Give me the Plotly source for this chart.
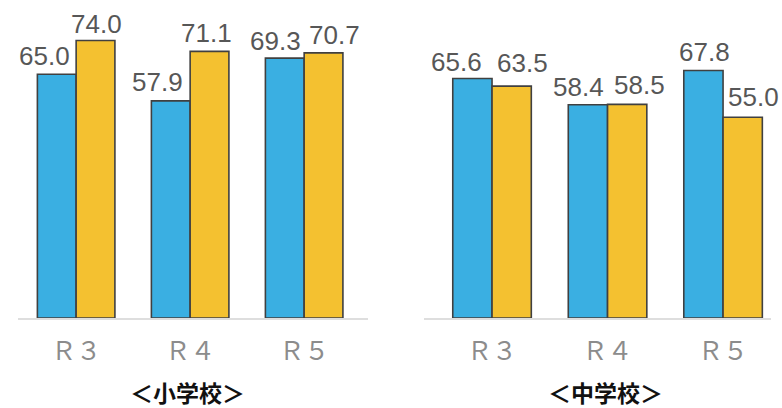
import plotly.graph_objects as go

# ---- data ----
categories = ["R3", "R4", "R5"]
tick_labels = ["Ｒ３", "Ｒ４", "Ｒ５"]
elem_blue = [65.0, 57.9, 69.3]
elem_yellow = [74.0, 71.1, 70.7]
jhs_blue = [65.6, 58.4, 67.8]
jhs_yellow = [63.5, 58.5, 55.0]
panel_titles = ["＜小学校＞", "＜中学校＞"]

# label offsets (px) relative to category centre: (blue, yellow) per category
elem_dx = [(-32, 20), (-33, 16), (-29, 30)]
elem_dy = [(1, 0), (2, 1), (0, 1)]
jhs_dx = [(-36, 30), (-29, 32), (-19, 30)]
jhs_dy = [(0, 6), (1, 2), (1, 3)]

BLUE = "#3aafe2"
YELLOW = "#f4c130"
EDGE = "#404040"

fig = go.Figure()

def add_panel(blue, yellow, xa, ya):
    fig.add_trace(go.Bar(x=categories, y=blue, marker=dict(color=BLUE, line=dict(color=EDGE, width=1.6)),
                         xaxis=xa, yaxis=ya, showlegend=False, hoverinfo="skip"))
    fig.add_trace(go.Bar(x=categories, y=yellow, marker=dict(color=YELLOW, line=dict(color=EDGE, width=1.6)),
                         xaxis=xa, yaxis=ya, showlegend=False, hoverinfo="skip"))

add_panel(elem_blue, elem_yellow, "x", "y")
add_panel(jhs_blue, jhs_yellow, "x2", "y2")

label_font = dict(family="Liberation Sans", size=26, color="#575757")

def add_labels(blue, yellow, dx, dy, xref, yref):
    for i, c in enumerate(categories):
        for j, v in enumerate((blue[i], yellow[i])):
            fig.add_annotation(x=c, y=v, xref=xref, yref=yref, text=f"{v:.1f}",
                               showarrow=False, xanchor="center", yanchor="bottom",
                               xshift=dx[i][j], yshift=dy[i][j], font=label_font)

add_labels(elem_blue, elem_yellow, elem_dx, elem_dy, "x", "y")
add_labels(jhs_blue, jhs_yellow, jhs_dx, jhs_dy, "x2", "y2")

for k, (t, xc) in enumerate(zip(panel_titles, [0.240, 0.774])):
    fig.add_annotation(x=xc, y=0, xref="paper", yref="paper", yshift=-74, text=t,
                       showarrow=False, xanchor="center", yanchor="middle",
                       font=dict(family="Noto Sans CJK JP", size=23, color="#111", weight=600))

xcommon = dict(type="category", showline=True, linecolor="#dedede", linewidth=2,
               showgrid=False, zeroline=False, ticks="", tickmode="array",
               tickvals=categories, ticktext=tick_labels, ticklabelstandoff=10,
               tickfont=dict(family="Noto Sans CJK JP", size=25, color="#8c8c8c"))

fig.update_layout(
    width=782, height=408,
    margin=dict(l=0, r=0, t=0, b=90),
    paper_bgcolor="white", plot_bgcolor="white",
    barmode="group", bargap=0.32, bargroupgap=0,
    xaxis=dict(domain=[18/782, 368/782], range=[-0.51, 2.56], anchor="y", **xcommon),
    xaxis2=dict(domain=[424/782, 771/782], range=[-0.589, 2.415], anchor="y2", **xcommon),
    yaxis=dict(domain=[0, 1], range=[0, 84.8], visible=False),
    yaxis2=dict(domain=[0, 1], range=[0, 87.1], visible=False, anchor="x2"),
)

fig.write_html("out.html", config={"displayModeBar": False},
               post_script="document.body.style.margin='0';document.body.style.overflow='hidden';")
